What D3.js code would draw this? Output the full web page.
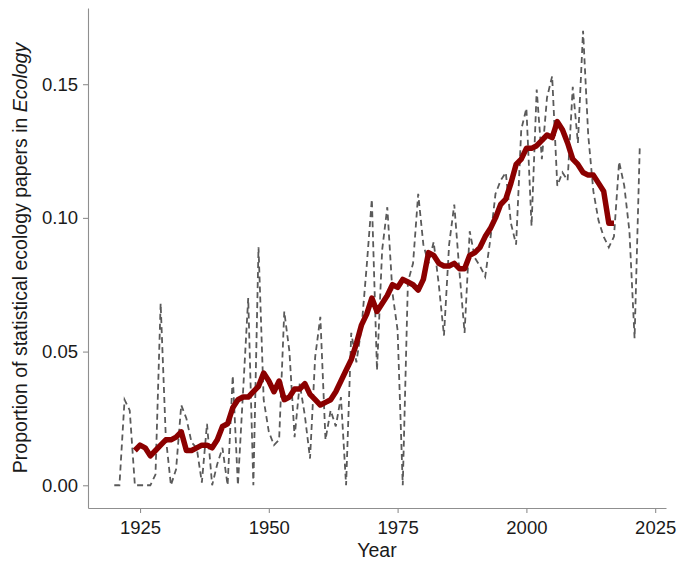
<!DOCTYPE html>
<html>
<head>
<meta charset="utf-8">
<script src="https://cdn.jsdelivr.net/npm/d3@7"></script>
<style>
  html, body { margin: 0; padding: 0; background: #fff; }
  svg { display: block; font-family: "Liberation Sans", Arial, sans-serif; }
</style>
</head>
<body>
<svg id="chart" width="680" height="573"></svg>
<script>
// yearly proportion of statistical ecology papers (dashed)
const years = [
  1920, 1921, 1922, 1923, 1924, 1925, 1926, 1927, 1928, 1929,
  1930, 1931, 1932, 1933, 1934, 1935, 1936, 1937, 1938, 1939,
  1940, 1941, 1942, 1943, 1944, 1945, 1946, 1947, 1948, 1949,
  1950, 1951, 1952, 1953, 1954, 1955, 1956, 1957, 1958, 1959,
  1960, 1961, 1962, 1963, 1964, 1965, 1966, 1967, 1968, 1969,
  1970, 1971, 1972, 1973, 1974, 1975, 1976, 1977, 1978, 1979,
  1980, 1981, 1982, 1983, 1984, 1985, 1986, 1987, 1988, 1989,
  1990, 1991, 1992, 1993, 1994, 1995, 1996, 1997, 1998, 1999,
  2000, 2001, 2002, 2003, 2004, 2005, 2006, 2007, 2008, 2009,
  2010, 2011, 2012, 2013, 2014, 2015, 2016, 2017, 2018, 2019,
  2020, 2021, 2022
];
const proportion = [
  0.000, 0.000, 0.032, 0.028, 0.000, 0.000, 0.000, 0.000, 0.004, 0.068,
  0.018, 0.000, 0.006, 0.030, 0.025, 0.016, 0.014, 0.001, 0.023, 0.000,
  0.008, 0.014, 0.000, 0.041, 0.000, 0.035, 0.070, 0.000, 0.089, 0.032,
  0.020, 0.015, 0.017, 0.065, 0.050, 0.018, 0.038, 0.026, 0.010, 0.048,
  0.063, 0.017, 0.028, 0.022, 0.033, 0.000, 0.057, 0.046, 0.059, 0.082,
  0.107, 0.043, 0.088, 0.104, 0.072, 0.058, 0.000, 0.076, 0.083, 0.109,
  0.090, 0.083, 0.091, 0.075, 0.056, 0.090, 0.105, 0.080, 0.057, 0.095,
  0.085, 0.082, 0.078, 0.092, 0.109, 0.114, 0.117, 0.098, 0.090, 0.133,
  0.141, 0.097, 0.148, 0.122, 0.145, 0.153, 0.112, 0.117, 0.114, 0.149,
  0.128, 0.170, 0.131, 0.110, 0.099, 0.093, 0.089, 0.093, 0.121, 0.112,
  0.095, 0.055, 0.126
];

// smoothed trend (thick red line)
const trendYears = [
  1924, 1925, 1926, 1927, 1928, 1929, 1930, 1931, 1932, 1933,
  1934, 1935, 1936, 1937, 1938, 1939, 1940, 1941, 1942, 1943,
  1944, 1945, 1946, 1947, 1948, 1949, 1950, 1951, 1952, 1953,
  1954, 1955, 1956, 1957, 1958, 1959, 1960, 1961, 1962, 1963,
  1964, 1965, 1966, 1967, 1968, 1969, 1970, 1971, 1972, 1973,
  1974, 1975, 1976, 1977, 1978, 1979, 1980, 1981, 1982, 1983,
  1984, 1985, 1986, 1987, 1988, 1989, 1990, 1991, 1992, 1993,
  1994, 1995, 1996, 1997, 1998, 1999, 2000, 2001, 2002, 2003,
  2004, 2005, 2006, 2007, 2008, 2009, 2010, 2011, 2012, 2013,
  2014, 2015, 2016, 2017
];
const trend = [
  0.013, 0.015, 0.014, 0.011, 0.013, 0.015, 0.017, 0.017, 0.018, 0.020,
  0.013, 0.013, 0.014, 0.015, 0.015, 0.014, 0.017, 0.022, 0.023, 0.029,
  0.032, 0.033, 0.033, 0.035, 0.037, 0.042, 0.039, 0.035, 0.039, 0.032,
  0.033, 0.036, 0.036, 0.038, 0.034, 0.032, 0.030, 0.031, 0.032, 0.035,
  0.039, 0.043, 0.047, 0.053, 0.060, 0.064, 0.070, 0.065, 0.068, 0.071,
  0.075, 0.074, 0.077, 0.076, 0.075, 0.073, 0.077, 0.087, 0.086, 0.083,
  0.082, 0.082, 0.083, 0.081, 0.081, 0.086, 0.087, 0.089, 0.093, 0.096,
  0.100, 0.105, 0.107, 0.113, 0.120, 0.122, 0.126, 0.126, 0.127, 0.129,
  0.131, 0.130, 0.136, 0.133, 0.128, 0.122, 0.120, 0.117, 0.116, 0.116,
  0.113, 0.110, 0.098, 0.098
];

const xTicks = [1925, 1950, 1975, 2000, 2025];
const yTicks = [0.00, 0.05, 0.10, 0.15];

const width = 680, height = 573;
const margin = { top: 8, right: 14, bottom: 65, left: 88 };
const innerW = width - margin.left - margin.right;
const innerH = height - margin.top - margin.bottom;

const svg = d3.select("#chart");
const g = svg.append("g")
  .attr("transform", `translate(${margin.left},${margin.top})`);

// ggplot-style 5% expansion of the data range
const xExt = d3.extent(years);
const xPad = (xExt[1] - xExt[0]) * 0.05;
const yMax = d3.max(proportion);
const yPad = yMax * 0.05;

const x = d3.scaleLinear()
  .domain([xExt[0] - xPad, xExt[1] + xPad])
  .range([0, innerW]);
const y = d3.scaleLinear()
  .domain([0 - yPad, yMax + yPad])
  .range([innerH, 0]);

const axisColor = "#8f8f8f";

// axes
const xAxis = g.append("g")
  .attr("transform", `translate(0,${innerH})`)
  .call(d3.axisBottom(x).tickValues(xTicks).tickFormat(d3.format("d"))
    .tickSizeInner(5).tickSizeOuter(0).tickPadding(5));
const yAxis = g.append("g")
  .call(d3.axisLeft(y).tickValues(yTicks).tickFormat(d3.format(".2f"))
    .tickSizeInner(5).tickSizeOuter(0).tickPadding(5));

[xAxis, yAxis].forEach(a => {
  a.select(".domain").attr("stroke", axisColor).attr("stroke-width", 1.1);
  a.selectAll(".tick line").attr("stroke", axisColor).attr("stroke-width", 1.1);
  a.selectAll(".tick text")
    .attr("fill", "#1a1a1a")
    .style("font-size", "18.5px")
    .style("font-family", "'Liberation Sans', Arial, sans-serif");
});
xAxis.selectAll(".tick text").attr("dy", "0.85em");

// yearly values, dashed
const line = d3.line()
  .x(d => x(d[0]))
  .y(d => y(d[1]));

g.append("path")
  .datum(d3.zip(years, proportion))
  .attr("fill", "none")
  .attr("stroke", "#5a5a5a")
  .attr("stroke-width", 1.8)
  .attr("stroke-dasharray", "6,4")
  .attr("d", line);

// smoothed trend
g.append("path")
  .datum(d3.zip(trendYears, trend))
  .attr("fill", "none")
  .attr("stroke", "#8b0000")
  .attr("stroke-width", 5.5)
  .attr("stroke-linejoin", "round")
  .attr("d", line);

// axis titles
svg.append("text")
  .attr("x", margin.left + innerW / 2)
  .attr("y", 557)
  .attr("text-anchor", "middle")
  .attr("fill", "#1a1a1a")
  .style("font-size", "19.5px")
  .text("Year");

const yTitle = svg.append("text")
  .attr("transform", `translate(27,${margin.top + innerH / 2}) rotate(-90)`)
  .attr("text-anchor", "middle")
  .attr("fill", "#1a1a1a")
  .style("font-size", "19.5px");
yTitle.append("tspan").text("Proportion of statistical ecology papers in ");
yTitle.append("tspan").style("font-style", "italic").text("Ecology");
</script>
</body>
</html>
